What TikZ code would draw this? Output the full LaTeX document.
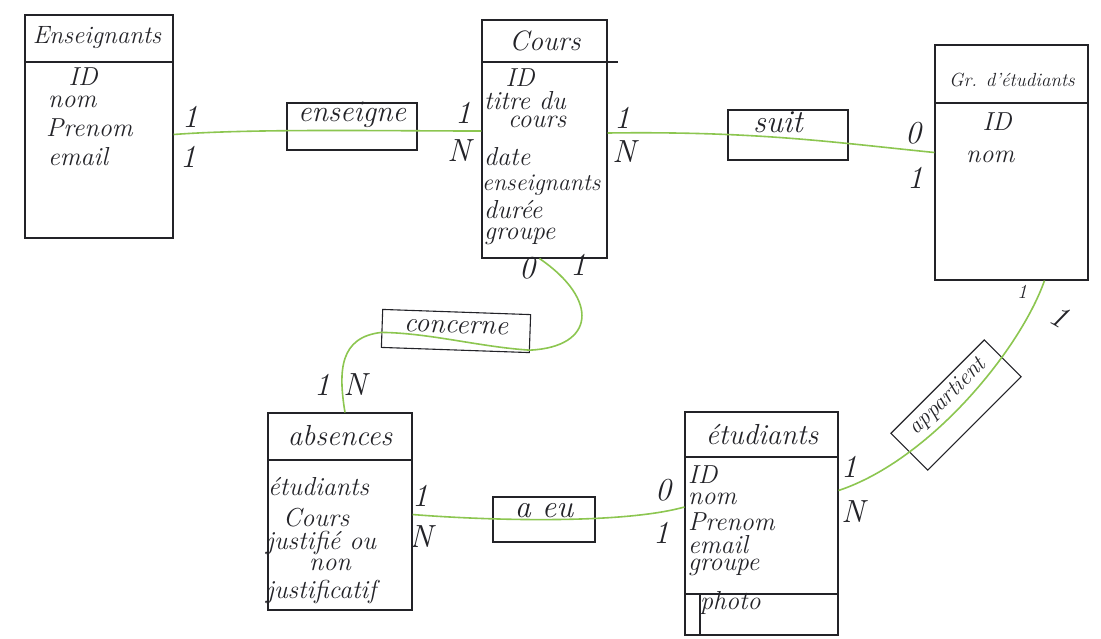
\documentclass[tikz,border=0pt]{standalone}
\usepackage{fontspec}
\usetikzlibrary{calc}
\definecolor{linkgreen}{RGB}{140,198,80}
\definecolor{pencil}{RGB}{35,35,40}
\begin{document}
\begin{tikzpicture}[x=1pt,y=-1pt,
  ent/.style={draw=pencil, line width=1.1pt, inner sep=0pt},
  relbox/.style={draw=pencil, line width=1.1pt, inner sep=0pt},
  hand/.style={text=pencil, font=\fontsize{26}{28}\selectfont\itshape, inner sep=0pt},
  fs/.style={font=\fontsize{#1}{#1}\selectfont\itshape},
  attr/.style={hand, anchor=west},
  card/.style={hand, fs=32},
  link/.style={draw=linkgreen, line width=1.6pt},
  sep/.style={draw=pencil, line width=1.1pt}]

\useasboundingbox[fill=white] (0,0) rectangle (1101,638);

% ---------------- boxes ----------------
\node[ent, minimum width=148pt, minimum height=223pt] (ens) at (99,126.5) {};
\node[ent, minimum width=125pt, minimum height=238pt] (cours) at (544.5,139) {};
\node[ent, minimum width=153pt, minimum height=235pt] (gr) at (1011.5,162.5) {};
\node[ent, minimum width=144pt, minimum height=197pt] (abs) at (340,511.5) {};
\node[ent, minimum width=153pt, minimum height=223pt] (stud) at (761.5,523.5) {};

\node[relbox, minimum width=130pt, minimum height=47pt] (ensg) at (352,126.5) {};
\node[relbox, minimum width=120pt, minimum height=50pt] (suit) at (788,135) {};
\node[relbox, minimum width=148pt, minimum height=38pt, rotate=-2] (conc) at (456,331) {};
\node[relbox, minimum width=102pt, minimum height=45pt] (aeu) at (544,519.5) {};
\node[relbox, minimum width=132pt, minimum height=52pt, rotate=45] (app) at (956,405) {};

% ---------------- connectors ----------------
\draw[link] ([yshift=-8pt]ens.east) .. controls +(80,-6) and +(-100,0) .. ([yshift=8pt]cours.west);
\draw[link] ([yshift=6pt]cours.east) .. controls +(150,-2) and +(-100,-10) .. ([yshift=10pt]gr.west);
\draw[link] ([xshift=-5pt]cours.south) .. controls (600,300) and (595,347) .. ([yshift=3pt]conc.south east)
  .. controls (480,347) and (430,333) .. ([yshift=-4pt]conc.west)
  .. controls (340,337) and (338,370) .. ([xshift=5pt]abs.north);
\draw[link] ([yshift=-3pt]abs.east) .. controls (480,520) and (620,525) .. ([yshift=16.5pt]stud.west);
\draw[link] ([yshift=33pt]stud.east) .. controls (930,460) and (1020,350) .. ([xshift=33pt]gr.south);

% ---------------- separators ----------------
\draw[sep] (ens.west |- 0,62) -- (ens.east |- 0,62);
\draw[sep] (cours.west |- 0,62) -- ($(cours.east |- 0,62)+(10,0)$);
\draw[sep] (gr.west |- 0,103) -- (gr.east |- 0,103);
\draw[sep] (abs.west |- 0,460) -- (abs.east |- 0,460);
\draw[sep] (stud.west |- 0,457) -- (stud.east |- 0,457);
\draw[sep] (stud.west |- 0,594) -- (stud.east |- 0,594);
\draw[sep] (700,594) -- (stud.south -| 700,0);

% ---------------- relationship texts ----------------
\node[hand, fs=30] at ($(ensg.center)!0.5!(ensg.north)$) {enseigne};
\node[hand, fs=32] at ($(suit.center)!0.5!(suit.north)+(-10,0)$) {suit};
\node[hand, fs=28, rotate=-2] at ($(conc.center)!0.2!(conc.north)$) {concerne};
\node[hand, fs=32] at ($(aeu.center)!0.4!(aeu.north)$) {a eu};
\node[hand, fs=23, rotate=45] at ($(app.center)!0.42!(app.north)$) {appartient};

% ---------------- entity texts ----------------
\node[hand, fs=25] at (97,38) {Enseignants};
\node[hand] at (83,77) {ID};
\node[attr] at (48,102) {nom};
\node[attr] at (46,128) {Prenom};
\node[attr] at (48,157) {email};

\node[hand, fs=28] at (545,41) {Cours};
\node[hand] at (520,78) {ID};
\node[attr] at (484,101) {titre du};
\node[attr] at (508,122) {cours};
\node[attr] at (484,157) {date};
\node[attr, fs=24] at (482,185) {enseignants};
\node[attr] at (484,210) {durée};
\node[attr] at (484,236) {groupe};

\node[hand, fs=19] at (1012,80) {Gr. d'étudiants};
\node[hand] at (997,122) {ID};
\node[attr] at (966,157) {nom};

\node[hand, fs=29] at (340,436) {absences};
\node[attr] at (268,487) {étudiants};
\node[attr] at (283,518) {Cours};
\node[attr] at (266,543) {justifié ou};
\node[hand] at (330,565) {non};
\node[attr] at (266,592) {justificatif};

\node[hand, fs=29] at (762,435) {étudiants};
\node[attr] at (688,475) {ID};
\node[attr] at (688,499) {nom};
\node[attr] at (688,522) {Prenom};
\node[attr] at (688,545) {email};
\node[attr] at (688,567) {groupe};
\node[attr] at (700,603) {photo};

% ---------------- cardinalities ----------------
\node[card] at (190,117) {1};
\node[card] at (188,157) {1};
\node[card] at (463,113) {1};
\node[card] at (459,151) {N};
\node[card] at (622,118) {1};
\node[card] at (624,152) {N};
\node[card] at (913,133) {0};
\node[card] at (915,178) {1};
\node[card] at (527,268) {0};
\node[card] at (578,265) {1};
\node[card] at (322,385) {1};
\node[card] at (355,385) {N};
\node[card] at (420,496) {1};
\node[card] at (421,537) {N};
\node[card] at (663,490) {0};
\node[card] at (661,533) {1};
\node[card] at (849,467) {1};
\node[card] at (853,512) {N};
\node[hand, fs=20] at (1022,292) {1};
\node[card, rotate=-30] at (1060,316) {1};
\end{tikzpicture}
\end{document}
